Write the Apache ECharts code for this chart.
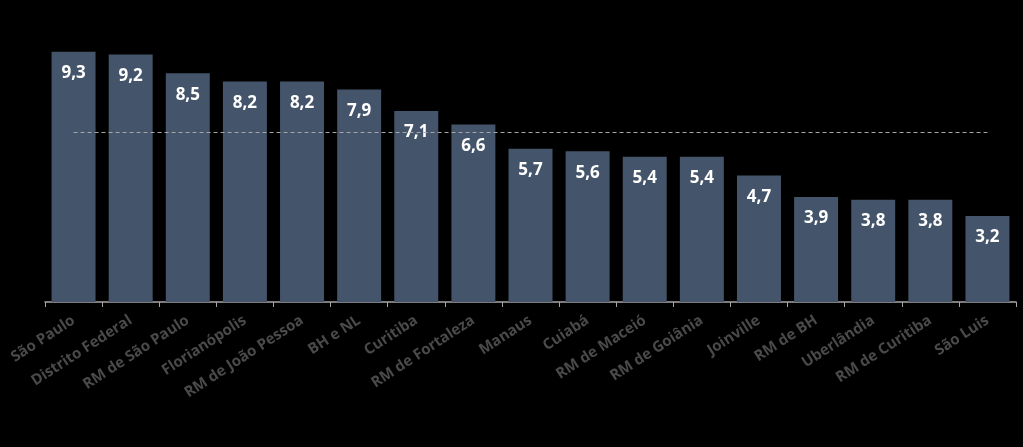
<!DOCTYPE html>
<html><head><meta charset="utf-8">
<script src="https://cdn.jsdelivr.net/npm/echarts@6/dist/echarts.min.js"></script>
<style>html,body{margin:0;padding:0;background:#000;}#c{width:1023px;height:447px;}</style>
</head><body><div id="c"></div>
<script>
const categories = ["São Paulo","Distrito Federal","RM de São Paulo","Florianópolis","RM de João Pessoa","BH e NL","Curitiba","RM de Fortaleza","Manaus","Cuiabá","RM de Maceió","RM de Goiânia","Joinville","RM de BH","Uberlândia","RM de Curitiba","São Luis"];
const values = [9.3,9.2,8.5,8.2,8.2,7.9,7.1,6.6,5.7,5.6,5.4,5.4,4.7,3.9,3.8,3.8,3.2];
const referenceLine = 6.3;

const chart = echarts.init(document.getElementById('c'));
chart.setOption({
  backgroundColor: '#000',
  animation: false,
  grid: {left: 45, right: 7, top: 33, bottom: 145},
  xAxis: {
    type: 'category', data: categories,
    axisLine: {lineStyle: {color: '#a6a6a6', width: 1.5}},
    axisTick: {show: true, alignWithLabel: false, length: 5, lineStyle: {color: '#a6a6a6'}},
    axisLabel: {rotate: 33, color: '#4a4a4a', fontFamily: 'Open Sans', fontWeight: 'bold', fontSize: 15, margin: 17, interval: 0}
  },
  yAxis: {type: 'value', min: 0, max: 10, show: false, splitLine: {show: false}},
  series: [{
    type: 'bar', data: values, barCategoryGap: '23%',
    itemStyle: {color: '#44546a'},
    label: {show: true, position: 'insideTop', distance: 13, color: '#fff', fontFamily: 'Open Sans', fontWeight: 'bold', fontSize: 17,
      formatter: p => p.value.toFixed(1).replace('.', ',')},
    markLine: {
      silent: true, symbol: 'none', label: {show: false},
      lineStyle: {color: '#a6a6a6', type: [4, 3], width: 1},
      data: [[{coord: [categories[0], referenceLine]}, {coord: [categories[categories.length-1], referenceLine]}]]
    }
  }]
});
</script></body></html>
